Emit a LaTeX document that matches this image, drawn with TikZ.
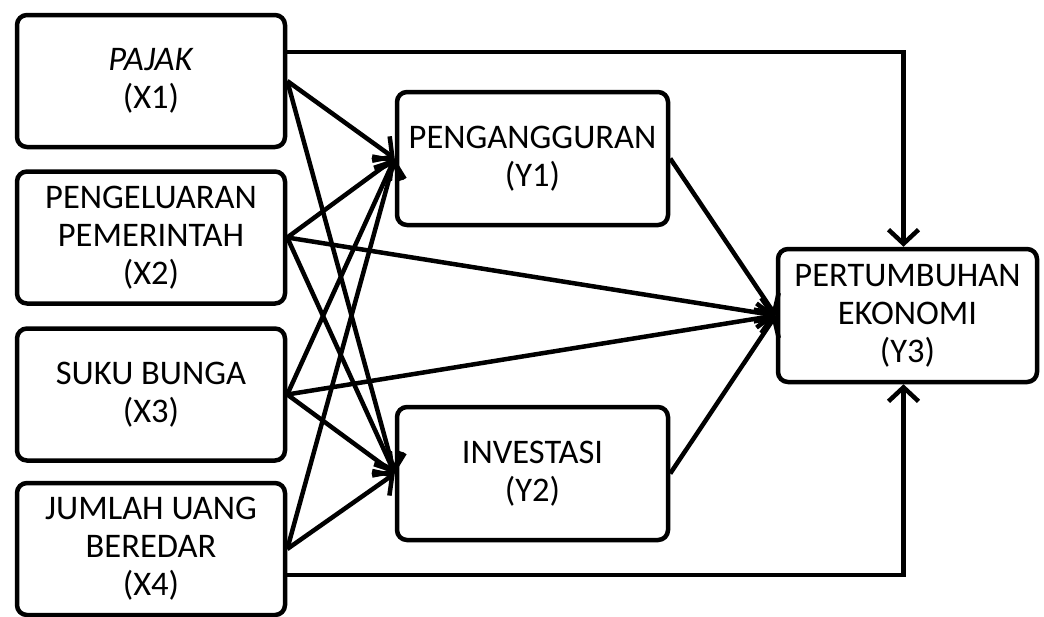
\documentclass[tikz,border=0pt]{standalone}
\usepackage{fontspec}
\setmainfont{Carlito}
\usetikzlibrary{arrows.meta}
\tikzset{%
  varbox/.style={draw,line width=4.5pt,rounded corners=10pt,align=center,
    minimum width=268pt,minimum height=132pt,inner sep=0pt,
    font=\fontsize{34.5}{38}\selectfont},
  linkarrow/.style={line width=4.5pt,
    -{Straight Barb[length=14pt,width=30pt,line width=4.5pt]}},
}

\begin{document}
\begin{tikzpicture}[x=1pt,y=-1pt]
  \useasboundingbox (0,0) rectangle (1044,616);
  % exogenous variables
  \node[varbox] (X1) at (151,81) {\textit{PAJAK}\\(X1)};
  \node[varbox] (X2) at (151,237.5) {PENGELUARAN\\PEMERINTAH\\(X2)};
  \node[varbox] (X3) at (151,394.5) {SUKU BUNGA\\(X3)};
  \node[varbox] (X4) at (151,549) {JUMLAH UANG\\BEREDAR\\(X4)};
  % endogenous variables
  \node[varbox,minimum width=271pt,minimum height=133pt] (Y1) at (532.5,158.5) {PENGANGGURAN\\(Y1)};
  \node[varbox,minimum width=271pt,minimum height=133pt] (Y2) at (532.5,473.5) {INVESTASI\\(Y2)};
  \node[varbox,minimum width=259pt,minimum height=133pt] (Y3) at (907.5,315.5) {PERTUMBUHAN\\EKONOMI\\(Y3)};
  % paths into Y1 and Y2
  \foreach \src in {X1,X2,X3,X4} {
    \draw[linkarrow] (\src.east) -- (Y1.west);
    \draw[linkarrow] (\src.east) -- (Y2.west);
  }
  % paths into Y3
  \foreach \src in {X2,X3,Y1,Y2}
    \draw[linkarrow] (\src.east) -- (Y3.west);
  \draw[linkarrow] ([yshift=29pt]X1.east) -| ([xshift=-4pt]Y3.north);
  \draw[linkarrow] ([yshift=-26pt]X4.east) -| ([xshift=-4pt]Y3.south);
\end{tikzpicture}
\end{document}
